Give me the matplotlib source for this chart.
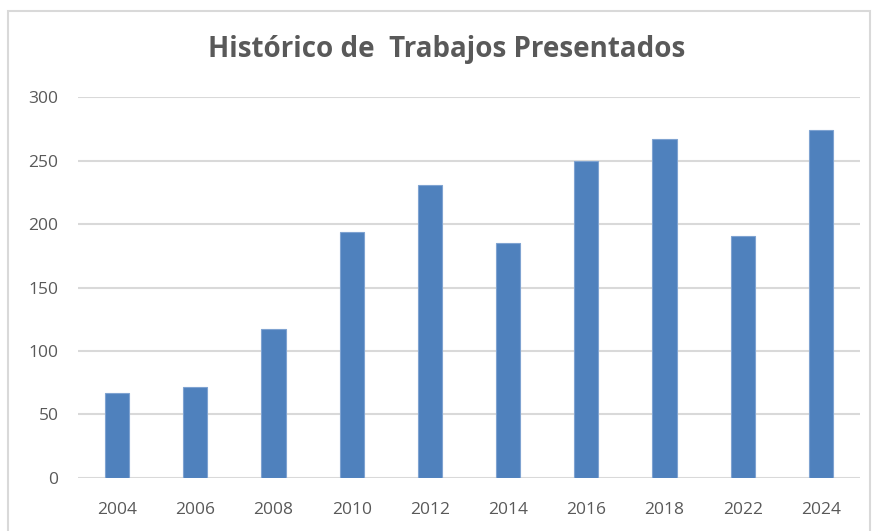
import matplotlib.pyplot as plt
from matplotlib.patches import Rectangle

# Datos
anios = ["2004", "2006", "2008", "2010", "2012", "2014", "2016", "2018", "2022", "2024"]
trabajos = [67, 72, 117, 194, 231, 185, 250, 267, 191, 274]
ticks_y = [0, 50, 100, 150, 200, 250, 300]

gris = "#595959"
azul = "#4F81BD"

plt.rcParams['font.family'] = ['Open Sans', 'DejaVu Sans']

fig = plt.figure(figsize=(8.75, 5.31), dpi=100)
ax = fig.add_axes([0.089, 0.100, 0.894, 0.717])

ax.bar(anios, trabajos, width=0.31, color=azul, edgecolor="#7FA3D1", linewidth=0.8, zorder=3)

ax.set_ylim(0, 300)
ax.set_xlim(-0.5, len(anios) - 0.5)
ax.set_yticks(ticks_y)
ax.yaxis.grid(True, color="#D9D9D9", linewidth=1.5, zorder=0)
ax.set_axisbelow(True)
for s in ax.spines.values():
    s.set_visible(False)
ax.tick_params(length=0, labelsize=12.5, colors=gris)
ax.tick_params(axis="x", pad=17)
ax.tick_params(axis="y", pad=14)

fig.text(0.511, 0.906, "Histórico de  Trabajos Presentados", ha="center", va="center",
         fontsize=20, fontweight="bold", color=gris)

# borde del gráfico
fig.patches.append(Rectangle((0.009, -0.01), 0.985, 0.989, transform=fig.transFigure,
                             fill=False, edgecolor="#D9D9D9", linewidth=1.5))

fig.savefig("out.png", dpi=100)
